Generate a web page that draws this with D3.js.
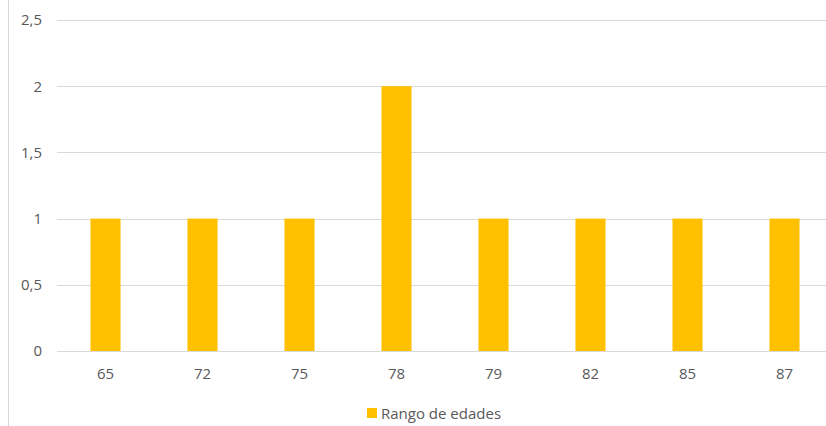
<!DOCTYPE html>
<html><head><meta charset="utf-8">
<script src="https://cdn.jsdelivr.net/npm/d3@7"></script>
<style>body{margin:0;background:#fff}svg{display:block}</style>
</head><body>
<svg id="c" width="826" height="426"></svg>
<script>
const categories = ["65","72","75","78","79","82","85","87"];
const values = [1,1,1,2,1,1,1,1];
const yTicks = [0,0.5,1,1.5,2,2.5];
const seriesName = "Rango de edades";

const svg = d3.select("#c");
const font = "'Open Sans', sans-serif";
const fs = 15;
// left frame line
svg.append("line").attr("x1",8.5).attr("x2",8.5).attr("y1",0).attr("y2",426).attr("stroke","#d9d9d9");

const x = d3.scaleBand().domain(categories).range([57,833]).paddingInner(0.69).paddingOuter(0.345);
const y = d3.scaleLinear().domain([0,2.5]).range([351,20]);
const fmt = d => String(d).replace(".",",");

const g = svg.append("g");
g.selectAll("line.grid").data(yTicks).join("line")
  .attr("x1",57).attr("x2",826)
  .attr("y1",d=>Math.round(y(d))+0.5).attr("y2",d=>Math.round(y(d))+0.5)
  .attr("stroke","#d9d9d9");

g.selectAll("rect.bar").data(values).join("rect")
  .attr("x",(d,i)=>x(categories[i]))
  .attr("width",x.bandwidth())
  .attr("y",d=>y(d)).attr("height",d=>y(0)-y(d))
  .attr("fill","#FFC000");

// y axis labels
const yAxis = d3.axisLeft(y).tickValues(yTicks).tickFormat(fmt).tickSize(0).tickPadding(0);
const ya = svg.append("g").attr("transform","translate(42,0)").call(yAxis);
ya.select(".domain").remove();
ya.selectAll("text").attr("font-family",font).attr("font-size",fs).attr("fill","#595959");

const xAxis = d3.axisBottom(x).tickSize(0).tickPadding(0);
const xa = svg.append("g").attr("transform","translate(0,368)").call(xAxis);
xa.select(".domain").remove();
xa.selectAll("text").attr("font-family",font).attr("font-size",fs).attr("fill","#595959");

// legend
svg.append("rect").attr("x",367).attr("y",408).attr("width",10).attr("height",10).attr("fill","#FFC000");
svg.append("text").attr("x",381).attr("y",419).attr("font-family",font).attr("font-size",fs).attr("fill","#595959").text(seriesName);
</script>
</body></html>
